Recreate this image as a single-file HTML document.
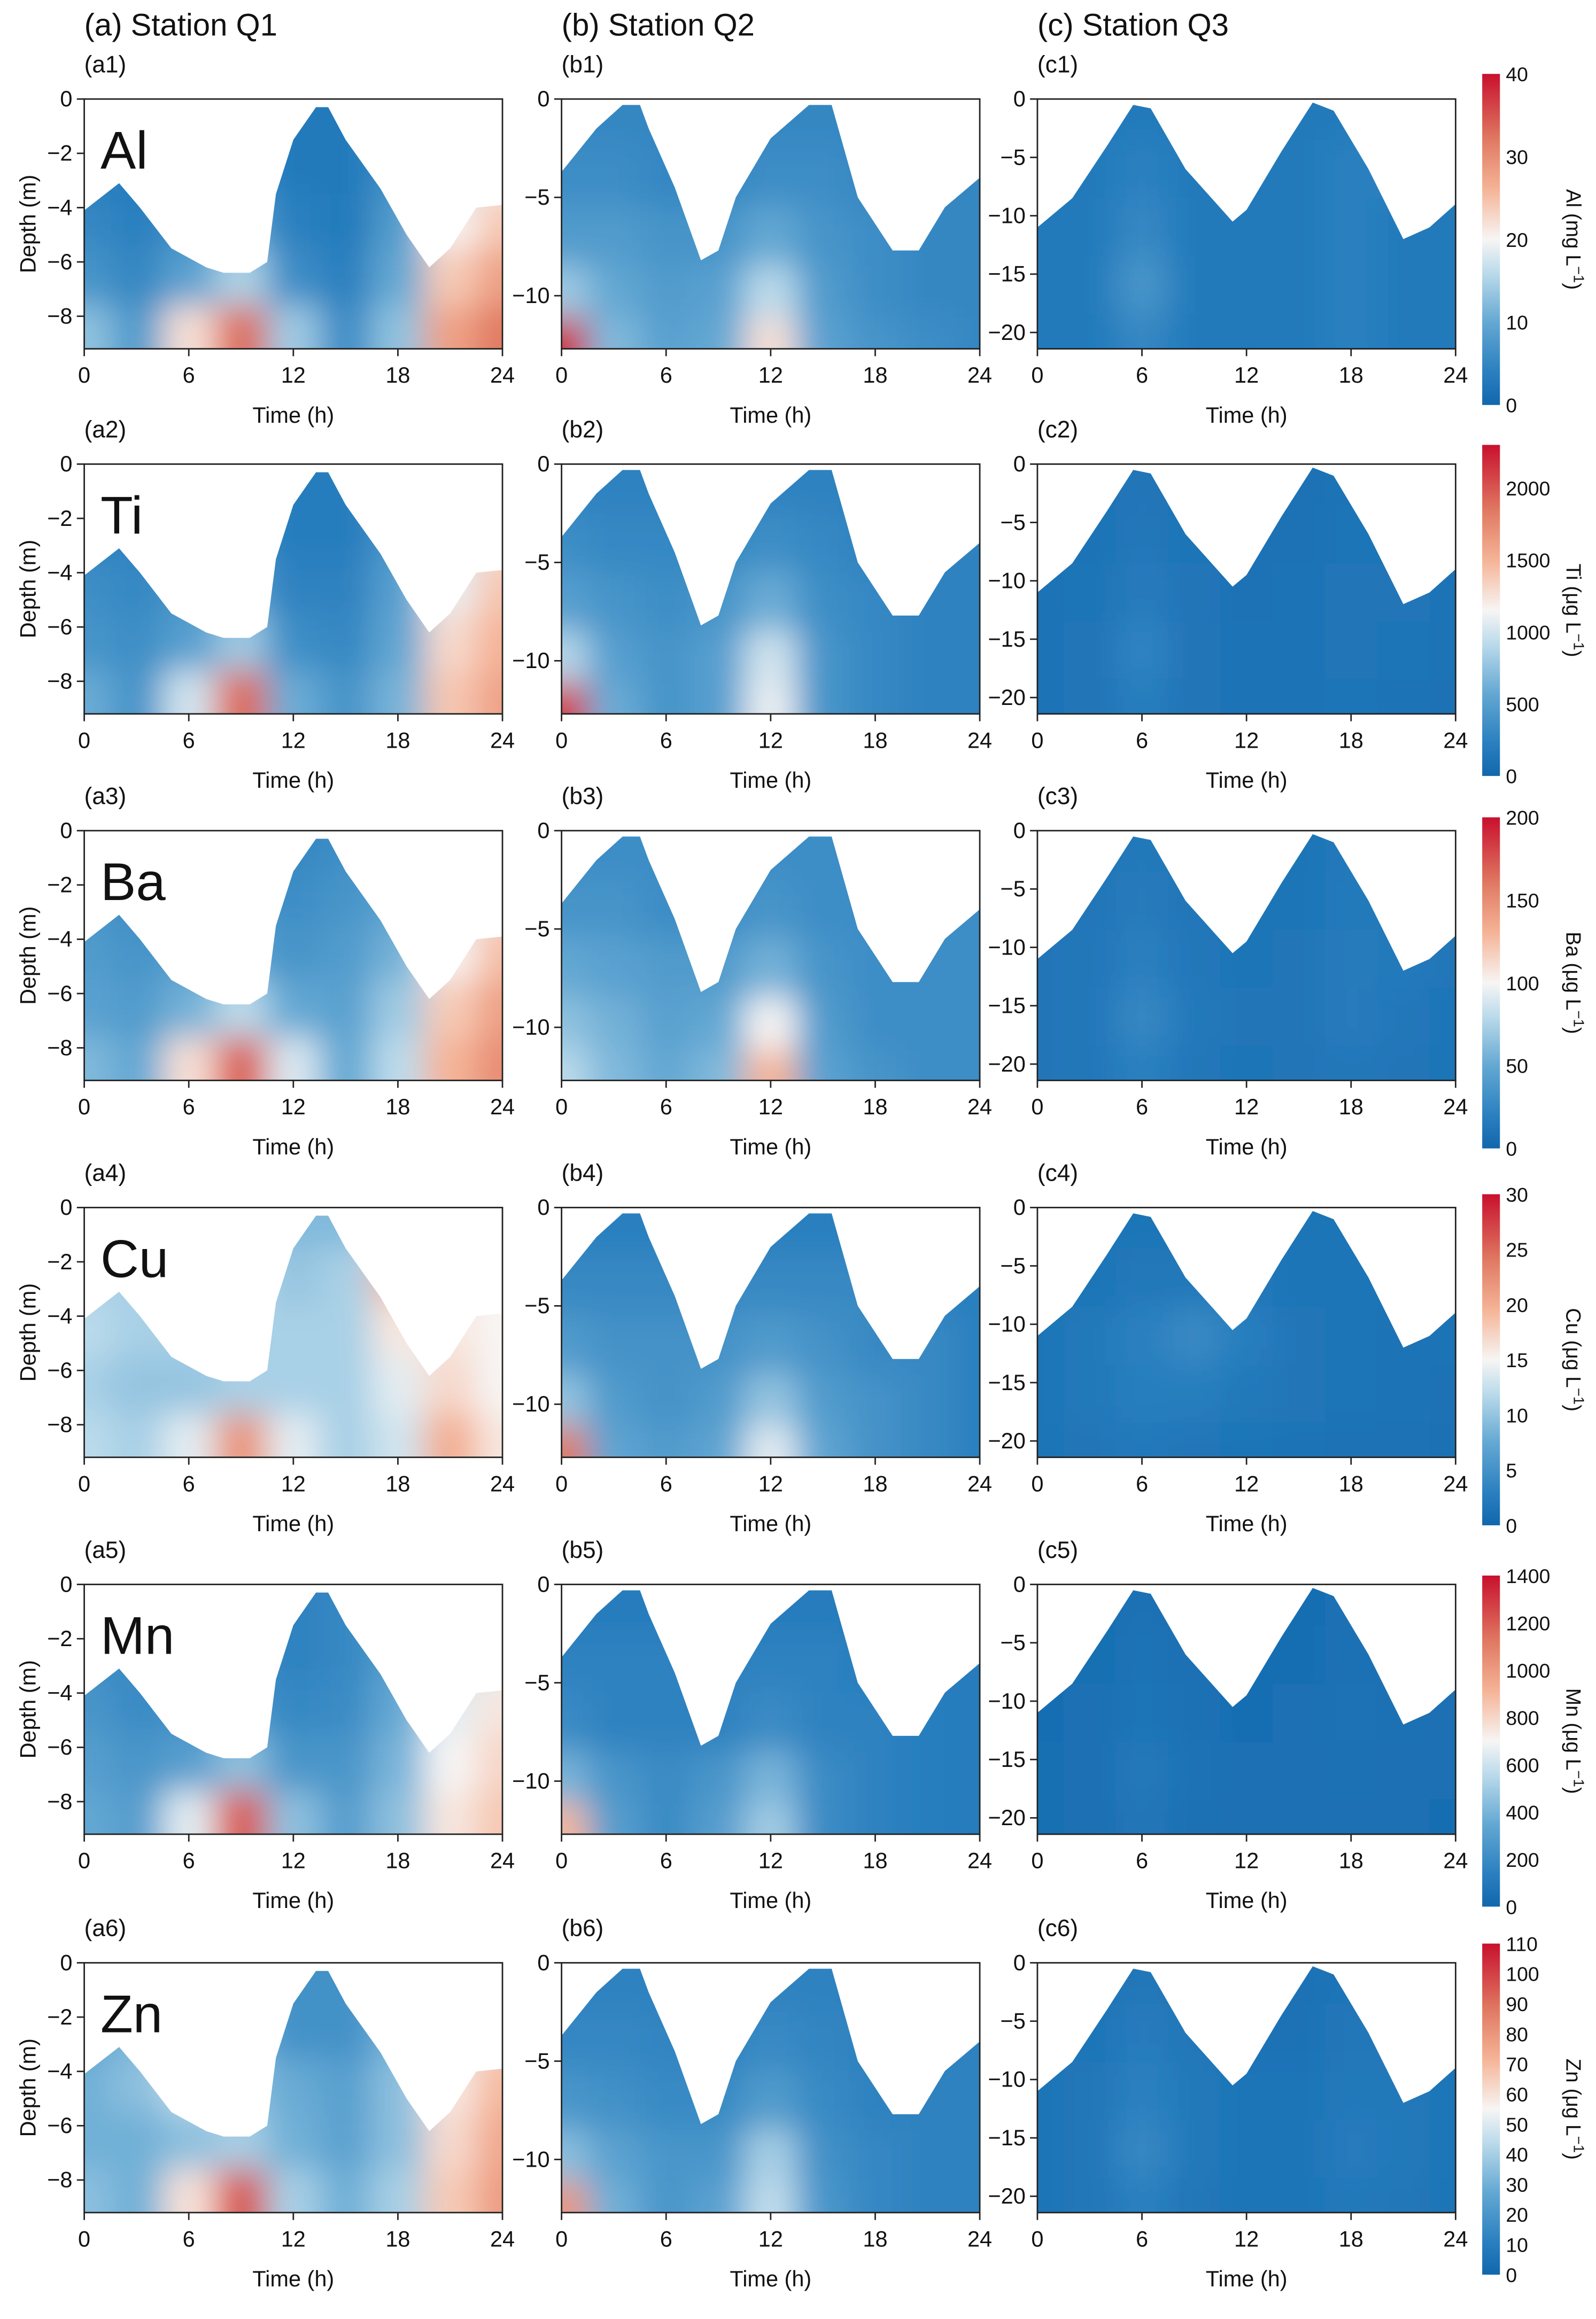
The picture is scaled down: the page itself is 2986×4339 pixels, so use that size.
<!DOCTYPE html>
<html><head><meta charset="utf-8">
<style>
html,body{margin:0;padding:0;background:#fff}
svg{display:block}
text{font-family:"Liberation Sans",Arial,sans-serif;fill:#111}
</style></head>
<body>
<svg id="fig" xmlns="http://www.w3.org/2000/svg" width="2986" height="4339" viewBox="0 0 1080 1569" preserveAspectRatio="none">
<defs>
<filter id="blur" x="-20%" y="-20%" width="140%" height="140%"><feGaussianBlur stdDeviation="11"/></filter>
</defs>
</svg>
<script>
// ---- data ----
const times = [0,3,6,9,12,15,18,21,24];
const depthsA = [-0.5,-2.5,-4.5,-6.5,-8.7];
const depthsB = [-1,-4,-7,-10,-12.3];
const depthsC = [-1,-6,-11,-16,-20.8];
const surfTA = [0,2,3.2,5,7,8,9.5,10.5,11,12,13.3,14,15,17,18.5,19.8,21,22.5,24];
const surfDA = [-4.1,-3.1,-4,-5.5,-6.2,-6.4,-6.4,-6,-3.5,-1.5,-0.3,-0.3,-1.5,-3.3,-5,-6.2,-5.5,-4,-3.9];
const surfTB = [0,2,3.5,4.5,5,6.5,8,9,10,12,14.2,15.5,17,19,20.5,22,24];
const surfDB = [-3.7,-1.5,-0.3,-0.3,-1.5,-4.5,-8.2,-7.7,-5,-2,-0.3,-0.3,-5,-7.7,-7.7,-5.5,-4];
const surfTC = [0,2,4,5.5,6.5,8.5,11.2,12,14,15.8,17,19,21,22.5,24];
const surfDC = [-11,-8.5,-4,-0.5,-0.8,-6,-10.5,-9.5,-4.5,-0.3,-1,-6,-12,-11,-9];
const bottomA = -9.2, bottomB = -12.7, bottomC = -21.4;
const elements = ["Al","Ti","Ba","Cu","Mn","Zn"];
const units = ["mg L","μg L","μg L","μg L","μg L","μg L"];
const vmax = [40,2300,200,30,1400,110];
const cbTicks = [[0,10,20,30,40],[0,500,1000,1500,2000],[0,50,100,150,200],[0,5,10,15,20,25,30],[0,200,400,600,800,1000,1200,1400],[0,10,20,30,40,50,60,70,80,90,100,110]];
// grids: rows shallow->deep, cols = times
const valsA = [
 [[4,4,4,5,3,3,5,12,17],[4,3,4,5,3,3,6,14,20],[5,4,6,9,4,3,8,20,24],[7,5,9,15,6,4,10,24,28],[13,8,22,33,14,6,13,28,32]],
 [[250,250,300,300,200,200,350,800,1000],[250,250,300,300,200,200,400,900,1200],[350,300,400,500,250,250,500,1100,1400],[400,350,500,800,350,300,550,1300,1500],[600,400,1000,1900,600,400,650,1400,1600]],
 [[35,30,30,30,25,30,40,70,90],[35,30,30,35,30,35,45,85,110],[40,35,40,45,35,40,55,100,125],[45,40,55,80,50,45,70,120,140],[60,50,110,170,90,50,80,130,150]],
 [[10,10,11,12,9,9,14,16,15],[11,11,12,12,10,11,19,16,15],[12,11,11,11,11,11,16,16,15],[11,10,10,11,11,11,14,17,15],[12,11,14,22,14,11,13,20,16]],
 [[200,200,200,200,150,180,250,450,550],[200,200,200,200,150,180,300,550,650],[250,200,220,250,180,200,350,650,750],[300,250,300,450,250,250,400,700,800],[350,300,650,1200,450,300,450,750,850]],
 [[25,25,30,25,18,18,25,40,55],[25,32,42,30,18,18,30,50,62],[30,35,45,35,28,24,35,58,70],[30,30,35,40,30,25,35,62,75],[35,30,60,95,40,30,40,66,78]]
];
const valsB = [
 [[5,5,5,5,5,5,5,5,5],[6,6,5,5,6,6,5,5,5],[8,8,7,7,10,7,6,5,5],[14,10,8,9,16,8,6,5,5],[38,12,9,10,22,9,7,6,5]],
 [[250,250,250,250,250,250,250,250,250],[350,300,300,300,350,300,250,250,250],[500,400,350,400,600,350,300,250,250],[900,500,400,500,1000,400,300,250,250],[2100,600,400,500,1100,400,300,250,250]],
 [[30,30,30,30,30,30,30,30,30],[35,35,30,30,35,30,30,30,30],[50,45,40,40,55,35,30,30,30],[65,55,45,50,100,40,30,30,30],[80,60,50,60,130,45,35,30,30]],
 [[3,3,3,3,3,3,3,3,3],[4,4,4,4,4,4,4,3,3],[6,5,5,5,6,5,4,4,3],[10,6,5,6,10,6,5,4,3],[24,7,6,7,14,7,5,4,3]],
 [[120,120,120,120,120,120,120,120,120],[150,150,150,150,150,150,130,120,120],[200,150,150,150,200,150,150,130,120],[400,250,200,250,400,200,150,130,120],[900,300,200,300,500,200,150,130,120]],
 [[12,12,12,12,12,12,12,12,12],[14,14,13,12,15,13,12,12,12],[20,18,15,15,22,15,12,12,12],[35,25,20,20,40,18,14,12,12],[80,30,20,25,45,20,14,12,12]]
];
const valsC = [
 [[3,3,3,3,3,3,3,3,3],[3,3,4,3,3,3,4,4,3],[3,3,5,3,3,3,4,3,3],[3,3,7,3,3,3,4,3,3],[3,3,5,3,3,3,4,3,3]],
 [[110,110,130,110,100,100,110,110,100],[110,110,150,120,100,100,120,120,110],[110,120,190,130,100,110,130,130,110],[110,130,260,130,110,110,130,120,110],[110,130,210,130,110,110,120,110,100]],
 [[11,11,14,12,10,10,14,14,12],[11,12,16,12,10,11,15,15,12],[12,13,19,13,11,12,16,15,12],[12,13,25,14,12,12,17,13,11],[12,13,20,13,11,12,13,12,11]],
 [[1.5,1.5,1.5,1.5,1.5,1.5,1.5,1.5,1.5],[1.5,1.6,2,2,2,1.6,1.5,1.5,1.5],[1.5,2.2,3,4,2.8,1.8,1.5,1.4,1.4],[1.5,2.2,2.8,2.7,2.2,1.8,1.5,1.4,1.3],[1.5,1.8,2.2,1.8,1.5,1.4,1.3,1.3,1.2]],
 [[40,40,55,45,38,38,45,45,40],[40,42,65,50,38,40,55,50,42],[40,45,75,55,40,45,60,55,45],[42,45,100,60,45,45,55,50,45],[42,45,85,55,45,45,50,45,40]],
 [[5,5,7,6,5,5,6,6,5],[5,6,9,7,5,5,7,7,6],[6,7,11,8,6,6,8,8,6],[6,7,14,8,6,6,9,8,6],[6,7,11,7,6,6,8,7,6]]
];
const rowTop = [67,314,562,817,1072,1328];
const cbTop = [50,301,553,808,1066,1315];
const colX = [57,380,702];
const PW = 283, PH = 169;

// ---- helpers ----
const NS = "http://www.w3.org/2000/svg";
const svg = document.getElementById("fig");
function mk(tag, attrs, parent){const e=document.createElementNS(NS,tag);for(const k in attrs)e.setAttribute(k,attrs[k]);(parent||svg).appendChild(e);return e;}
const stops=[[0,[18,103,173]],[0.1,[42,128,191]],[0.25,[100,168,211]],[0.4,[188,219,235]],[0.5,[247,245,244]],[0.65,[245,180,151]],[0.8,[224,122,98]],[1,[200,16,46]]];
function cmap(v){v=Math.max(0,Math.min(1,v));for(let i=1;i<stops.length;i++){if(v<=stops[i][0]){const a=stops[i-1],b=stops[i];const f=(v-a[0])/(b[0]-a[0]);const c=a[1].map((x,k)=>Math.round(x+(b[1][k]-x)*f));return `rgb(${c[0]},${c[1]},${c[2]})`;}}return "rgb(200,16,46)";}

const stations=[
 {key:"a",title:"(a) Station Q1",depths:depthsA,st:surfTA,sd:surfDA,bottom:bottomA,ticks:[0,-2,-4,-6,-8],vals:valsA},
 {key:"b",title:"(b) Station Q2",depths:depthsB,st:surfTB,sd:surfDB,bottom:bottomB,ticks:[0,-5,-10],vals:valsB},
 {key:"c",title:"(c) Station Q3",depths:depthsC,st:surfTC,sd:surfDC,bottom:bottomC,ticks:[0,-5,-10,-15,-20],vals:valsC}
];

stations.forEach((s,ci)=>{
 const x0=colX[ci];
 const tt=mk("text",{x:x0,y:24,"font-size":21});
 tt.textContent=s.title;
 
 
 for(let r=0;r<6;r++){
  const y0=rowTop[r];
  const xs=t=>x0+t/24*PW;
  const ys=d=>y0+(d/s.bottom)*PH;
  const g=mk("g",{});
  
  
  const lab=mk("text",{x:x0,y:y0-18,"font-size":16},g);
  lab.textContent="("+s.key+(r+1)+")";
  
  
  const cid="clip-"+s.key+r;
  const cp=mk("clipPath",{id:cid},g);
  let pts=s.st.map((t,i)=>xs(t)+","+ys(s.sd[i])).join(" ");
  pts+=" "+xs(24)+","+ys(s.bottom)+" "+xs(0)+","+ys(s.bottom);
  mk("polygon",{points:pts},cp);
  const cg=mk("g",{"clip-path":`url(#${cid})`},g);
  
  
  const fg=mk("g",{filter:"url(#blur)"},cg);
  const V=s.vals[r], dps=s.depths;
  for(let i=0;i<dps.length;i++){
   const dTop=i===0?3:(dps[i-1]+dps[i])/2;
   const dBot=i===dps.length-1?s.bottom-4:(dps[i]+dps[i+1])/2;
   for(let j=0;j<times.length;j++){
    const tL=j===0?-3:(times[j-1]+times[j])/2;
    const tR=j===times.length-1?27:(times[j]+times[j+1])/2;
    const c=mk("rect",{x:xs(tL),y:ys(dTop),width:xs(tR)-xs(tL)+0.5,height:ys(dBot)-ys(dTop)+0.5,fill:cmap(V[i][j]/vmax[r])},fg);
    
    
   }
  }
  const fr=mk("rect",{x:x0,y:y0,width:PW,height:PH,fill:"none",stroke:"#222","stroke-width":1},g);
  
  
  [0,6,12,18,24].forEach(t=>{
   mk("line",{x1:xs(t),x2:xs(t),y1:y0+PH,y2:y0+PH+5,stroke:"#222"},g);
   const tx=mk("text",{x:xs(t),y:y0+PH+23,"font-size":15,"text-anchor":"middle"},g);
   tx.textContent=t;
   
   
  });
  const xt=mk("text",{x:x0+PW/2,y:y0+PH+50,"font-size":15,"text-anchor":"middle"},g);
  xt.textContent="Time (h)";
  
  
  s.ticks.forEach(d=>{
   mk("line",{x1:x0-5,x2:x0,y1:ys(d),y2:ys(d),stroke:"#222"},g);
   const ty=mk("text",{x:x0-8,y:ys(d)+5,"font-size":15,"text-anchor":"end"},g);
   ty.textContent=d===0?"0":"\u2212"+Math.abs(d);
   
   
  });
  if(ci===0){
   const yt=mk("text",{x:0,y:0,"font-size":15,"text-anchor":"middle",transform:`translate(24,${y0+PH/2}) rotate(-90)`},g);
   yt.textContent="Depth (m)";
   
   
   const el=mk("text",{x:x0+11,y:y0+47,"font-size":36},g);
   el.textContent=elements[r];
   
   
  }
 }
});

for(let r=0;r<6;r++){
 const top=cbTop[r], h=224, x=1003, w=12;
 const g=mk("g",{});
 
 
 const gid="cbg"+r;
 const lg=mk("linearGradient",{id:gid,x1:0,y1:1,x2:0,y2:0},g);
 stops.forEach(st=>mk("stop",{offset:st[0],"stop-color":cmap(st[0])},lg));
 mk("rect",{x:x,y:top,width:w,height:h,fill:`url(#${gid})`},g);
 cbTicks[r].forEach(v=>{
  const yy=top+h-(v/vmax[r])*h;
  const t=mk("text",{x:x+w+4,y:yy+5,"font-size":13.5},g);
  t.textContent=v;
  
  
 });
 const ct=mk("text",{x:0,y:0,"font-size":14,"text-anchor":"middle",transform:`translate(1060,${top+h/2}) rotate(90)`},g);
 ct.innerHTML=elements[r]+" ("+units[r]+'<tspan dy="-5" font-size="10">\u22121</tspan><tspan dy="5">)</tspan>';
 
 
}
</script>
</body></html>
